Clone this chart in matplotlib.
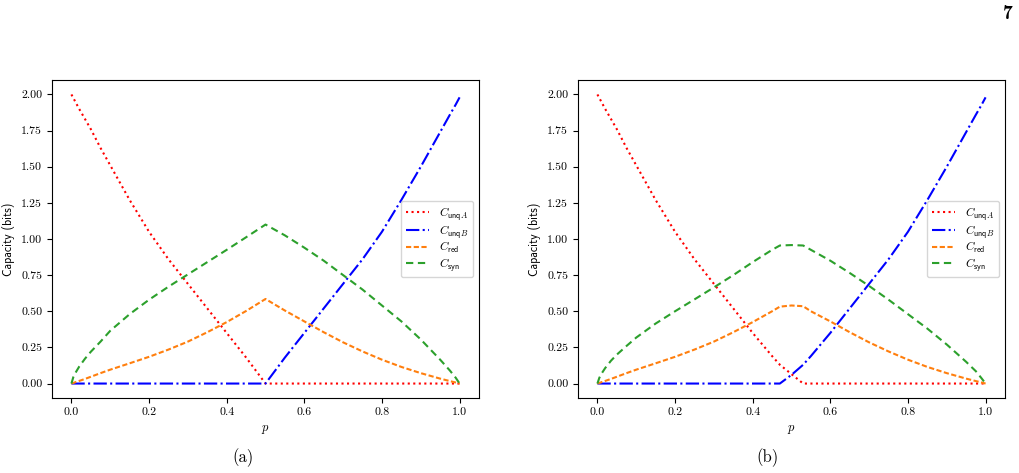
import matplotlib
matplotlib.use('Agg')
import matplotlib.pyplot as plt

plt.rcParams['font.family'] = 'serif'
plt.rcParams['font.serif'] = ['cmr10']
plt.rcParams['mathtext.fontset'] = 'cm'
plt.rcParams['axes.unicode_minus'] = False
plt.rcParams['font.size'] = 8.5

# (a)
p_a = [0, 0.005, 0.01, 0.02, 0.035, 0.05, 0.075, 0.1, 0.15, 0.2, 0.25, 0.3, 0.35, 0.4, 0.45, 0.5,
       0.55, 0.6, 0.65, 0.7, 0.75, 0.8, 0.85, 0.9, 0.95, 0.975, 0.99, 1.0]
unqA_a = [2.0, 1.975, 1.95, 1.9, 1.83, 1.76, 1.63, 1.51, 1.27, 1.05, 0.86, 0.69, 0.52, 0.35, 0.18, 0.0,
          0, 0, 0, 0, 0, 0, 0, 0, 0, 0, 0, 0]
unqB_a = [0, 0, 0, 0, 0, 0, 0, 0, 0, 0, 0, 0, 0, 0, 0, 0.0,
          0.18, 0.35, 0.52, 0.69, 0.86, 1.05, 1.27, 1.5, 1.74, 1.86, 1.93, 1.98]
red_a = [0, 0.004, 0.009, 0.018, 0.032, 0.047, 0.072, 0.096, 0.14, 0.185, 0.235, 0.29, 0.355, 0.425, 0.502, 0.585,
         0.505, 0.43, 0.355, 0.285, 0.222, 0.165, 0.115, 0.072, 0.034, 0.017, 0.007, 0]
syn_a = [0, 0.045, 0.072, 0.117, 0.172, 0.22, 0.29, 0.365, 0.48, 0.58, 0.67, 0.755, 0.84, 0.925, 1.012, 1.10,
         1.025, 0.94, 0.85, 0.75, 0.65, 0.54, 0.43, 0.305, 0.165, 0.09, 0.04, 0]

# (b)
p_b = [0, 0.005, 0.01, 0.02, 0.035, 0.05, 0.075, 0.1, 0.15, 0.2, 0.25, 0.3, 0.35, 0.4, 0.45, 0.47, 0.5,
       0.53, 0.55, 0.6, 0.65, 0.7, 0.75, 0.8, 0.85, 0.9, 0.95, 0.975, 0.99, 1.0]
unqA_b = [2.0, 1.975, 1.95, 1.9, 1.83, 1.76, 1.63, 1.51, 1.27, 1.05, 0.86, 0.69, 0.52, 0.35, 0.19, 0.13, 0.065,
          0, 0, 0, 0, 0, 0, 0, 0, 0, 0, 0, 0, 0]
unqB_b = [0, 0, 0, 0, 0, 0, 0, 0, 0, 0, 0, 0, 0, 0, 0, 0, 0.06,
          0.13, 0.19, 0.35, 0.52, 0.69, 0.86, 1.05, 1.27, 1.5, 1.74, 1.86, 1.93, 1.98]
red_b = [0, 0.004, 0.009, 0.018, 0.032, 0.047, 0.072, 0.096, 0.14, 0.185, 0.235, 0.29, 0.355, 0.425, 0.5, 0.532, 0.54,
         0.535, 0.5, 0.43, 0.355, 0.285, 0.222, 0.165, 0.115, 0.072, 0.034, 0.017, 0.007, 0]
syn_b = [0, 0.04, 0.066, 0.107, 0.158, 0.2, 0.26, 0.318, 0.415, 0.5, 0.582, 0.665, 0.75, 0.84, 0.925, 0.955, 0.958,
         0.955, 0.925, 0.85, 0.765, 0.675, 0.58, 0.48, 0.38, 0.27, 0.15, 0.085, 0.035, 0]

labels = [r'$C_{\mathsf{unq}A}$', r'$C_{\mathsf{unq}B}$',
          r'$C_{\mathsf{red}}$', r'$C_{\mathsf{syn}}$']

fig = plt.figure(figsize=(10.2, 4.73), dpi=100)
ax1 = fig.add_axes([52/1020, 1 - 398/473, 427/1020, 318/473])
ax2 = fig.add_axes([578/1020, 1 - 398/473, 427/1020, 318/473])

def draw(ax, p, ua, ub, rd, sy):
    ax.plot(p, ua, color='red', linestyle=':', lw=1.5, label=labels[0])
    ax.plot(p, ub, color='blue', linestyle='-.', lw=1.5, label=labels[1])
    ax.plot(p, rd, color='tab:orange', linestyle='--', dashes=(2.5, 1.2), lw=1.5, label=labels[2])
    ax.plot(p, sy, color='tab:green', linestyle='--', dashes=(3.5, 2.2), lw=1.5, label=labels[3])
    ax.set_xlabel(r'$p$', fontsize=9)
    ax.set_ylabel('Capacity (bits)', family='cmss10', fontsize=8.5)
    ax.set_yticks([0, 0.25, 0.5, 0.75, 1.0, 1.25, 1.5, 1.75, 2.0])
    ax.set_yticklabels(['0.00', '0.25', '0.50', '0.75', '1.00', '1.25', '1.50', '1.75', '2.00'])
    ax.set_xticks([0, 0.2, 0.4, 0.6, 0.8, 1.0])
    ax.set_xticklabels(['0.0', '0.2', '0.4', '0.6', '0.8', '1.0'])
    ax.legend(loc='center right', fontsize=8.5, labelspacing=0.05)

draw(ax1, p_a, unqA_a, unqB_a, red_a, syn_a)
draw(ax2, p_b, unqA_b, unqB_b, red_b, syn_b)

fig.text(243/1020, 1 - 458/473, '(a)', ha='center', va='center', fontsize=12)
fig.text(768/1020, 1 - 458/473, '(b)', ha='center', va='center', fontsize=12)
fig.text(1008/1020, 1 - 14/473, '7', ha='center', va='center', family='cmb10', fontsize=14)

fig.savefig('out.png', dpi=100)
